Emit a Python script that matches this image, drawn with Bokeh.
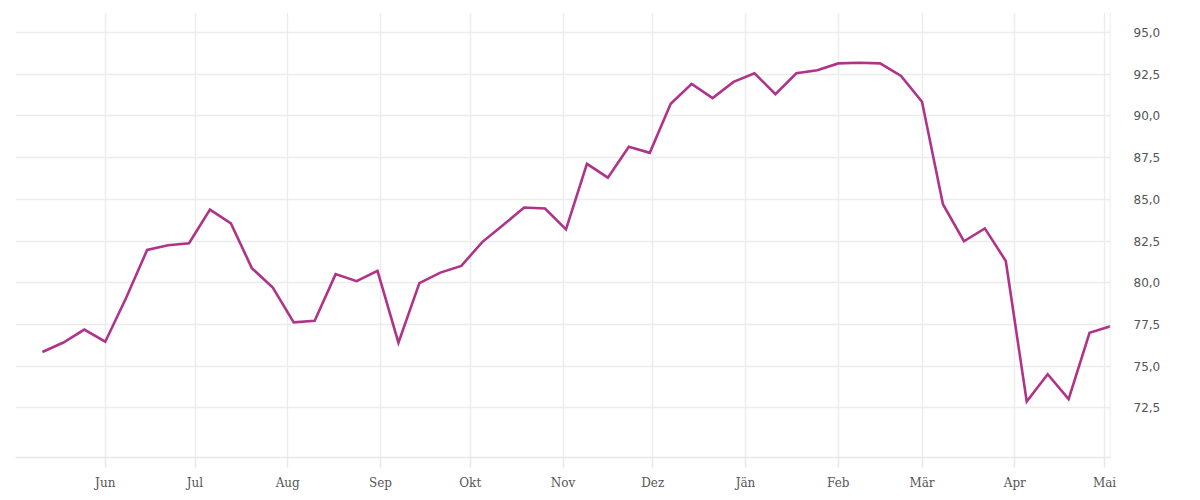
from datetime import datetime, timedelta
from bokeh.plotting import figure
from bokeh.models import FixedTicker, CustomJSTickFormatter, Range1d, Span
from bokeh.embed import file_html
from bokeh.resources import INLINE

# weekly observations
start = datetime(2022, 5, 11)
values = [75.85, 76.42, 77.20, 76.47, 79.10, 81.97, 82.25, 82.37, 84.39, 83.56,
          80.88, 79.72, 77.63, 77.72, 80.52, 80.10, 80.72, 76.41, 79.98, 80.61,
          81.01, 82.44, 83.46, 84.51, 84.45, 83.20, 87.13, 86.30, 88.16, 87.79,
          90.73, 91.92, 91.07, 92.04, 92.56, 91.31, 92.56, 92.74, 93.15, 93.19,
          93.15, 92.40, 90.85, 84.71, 82.49, 83.26, 81.31, 72.89, 74.52, 73.03,
          77.00, 77.40]
dates = [start + timedelta(days=7 * i) for i in range(len(values))]

month_starts = [datetime(2022, m, 1) for m in range(6, 13)] + [datetime(2023, m, 1) for m in range(1, 6)]
month_labels = ["Jun", "Jul", "Aug", "Sep", "Okt", "Nov", "Dez", "Jän", "Feb", "Mär", "Apr", "Mai"]
y_ticks = [72.5, 75.0, 77.5, 80.0, 82.5, 85.0, 87.5, 90.0, 92.5, 95.0]

x_lo = datetime(2022, 5, 2)
x_hi = dates[-1]

def ms(d):
    return (d - datetime(1970, 1, 1)).total_seconds() * 1000.0

p = figure(width=1184, height=492, x_axis_type="datetime",
           output_backend="svg", toolbar_location=None,
           x_range=Range1d(ms(x_lo), ms(x_hi)), y_range=Range1d(69.53, 96.2),
           y_axis_location="right",
           min_border_left=15, min_border_top=12, min_border_right=74, min_border_bottom=30)
p.outline_line_color = None
p.background_fill_color = "white"
p.border_fill_color = "white"

p.line(dates, values, line_color="#B0338A", line_width=2.6, line_join="miter")

# x axis
xt = [ms(d) for d in month_starts]
xa = p.xaxis[0]
xa.ticker = FixedTicker(ticks=xt)
xa.major_label_overrides = {t: lab for t, lab in zip(xt, month_labels)}
xa.axis_line_color = "#e8e8e8"
xa.axis_line_width = 1.5
xa.major_tick_line_color = "#e8e8e8"
xa.major_tick_line_width = 1.5
xa.major_tick_out = 10
xa.major_tick_in = 0
xa.minor_tick_line_color = None
xa.major_label_standoff = 8
xa.major_label_text_font = "DejaVu Serif"
xa.major_label_text_font_size = "12px"
xa.major_label_text_color = "#555555"

# y axis
ya = p.yaxis[0]
ya.ticker = FixedTicker(ticks=y_ticks)
ya.formatter = CustomJSTickFormatter(code="return tick.toFixed(1).replace('.', ',');")
ya.axis_line_color = None
ya.major_tick_line_color = None
ya.minor_tick_line_color = None
ya.major_label_standoff = 17
ya.major_label_text_font = "DejaVu Sans"
ya.major_label_text_font_size = "12px"
ya.major_label_text_color = "#555555"

p.xgrid.grid_line_color = "#ececec"
p.xgrid.grid_line_width = 1.5
p.ygrid.grid_line_color = "#ececec"
p.ygrid.grid_line_width = 1.5

p.add_layout(Span(location=ms(x_hi), dimension="height", line_color="#e8e8e8", line_width=1.5))

open("out.html", "w").write(file_html(p, INLINE))
